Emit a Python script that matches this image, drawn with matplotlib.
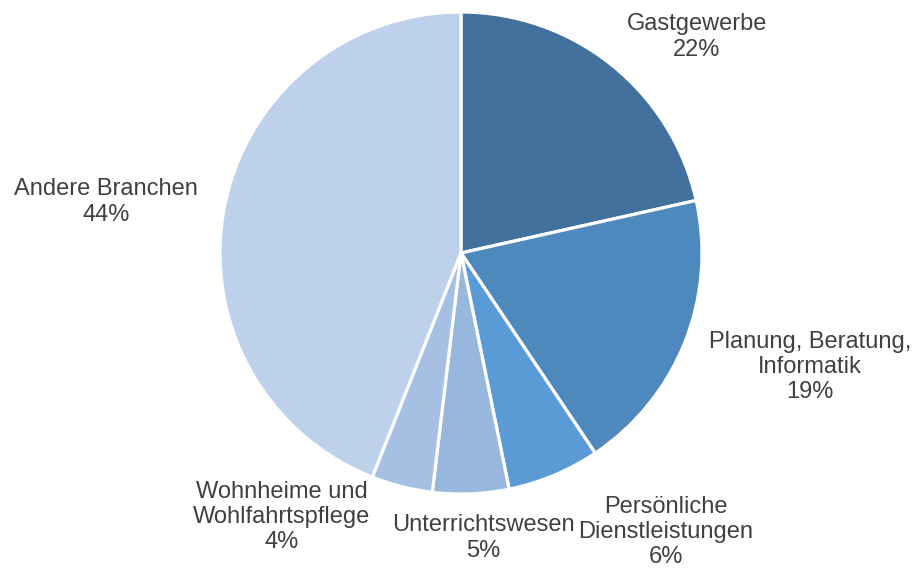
import matplotlib.pyplot as plt

branchen = ['Gastgewerbe', 'Planung, Beratung,\nInformatik', 'Persönliche\nDienstleistungen',
            'Unterrichtswesen', 'Wohnheime und\nWohlfahrtspflege', 'Andere Branchen']
anteile = [21.5, 19.1, 6.2, 5.1, 4.1, 44.0]
farben = ['#41719c', '#4e89bd', '#5b9bd5', '#97b7dd', '#a6c0e3', '#bdd1ea']

# Beschriftungspositionen (Pixel, Mitte des Textblocks)
label_pos = [(697, 37), (810, 367), (666, 532), (483, 538), (282, 517), (106, 202)]

plt.rcParams['font.family'] = ['Liberation Sans', 'DejaVu Sans']

fig = plt.figure(figsize=(9.14, 5.68), dpi=100)
ax = fig.add_axes([0, 0, 1, 1])
ax.pie(anteile, colors=farben, startangle=90, counterclock=False,
       center=(461, 568 - 253), radius=241,
       wedgeprops=dict(edgecolor='white', linewidth=2.3))
ax.set_xlim(0, 914)
ax.set_ylim(0, 568)
ax.set_aspect('equal')
ax.axis('off')

for name, wert, (x, y) in zip(branchen, anteile, label_pos):
    ax.text(x, 568 - y, f'{name}\n{int(wert + 0.5)}%', ha='center', va='center',
            fontsize=17, color='#404040', linespacing=1.18)

fig.savefig('out.png', dpi=100)
